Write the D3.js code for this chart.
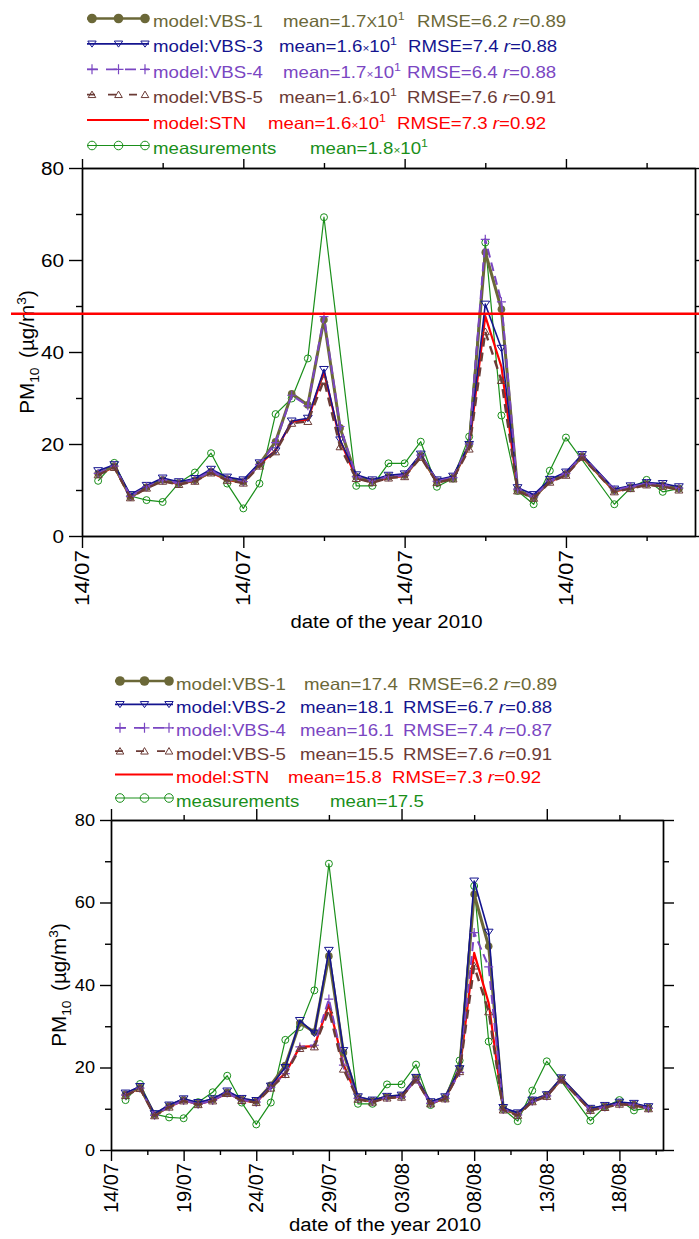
<!DOCTYPE html>
<html><head><meta charset="utf-8">
<script src="https://cdn.jsdelivr.net/npm/d3@7"></script>
<style>body{margin:0;background:#fff} svg text{font-family:"Liberation Sans",Arial,sans-serif}</style>
</head><body><svg id="c" width="699" height="1239"></svg>
<script>
// ---------- DATA ----------
const dates = ["15/07","16/07","17/07","18/07","19/07","20/07","21/07","22/07","23/07","24/07","25/07","26/07","27/07","28/07","29/07","30/07","31/07","01/08","02/08","03/08","04/08","05/08","06/08","07/08","08/08","09/08","10/08","11/08","12/08","13/08","14/08","15/08","16/08","17/08","18/08","19/08","20/08"];

// upper panel
const topMeas = [12.0,15.9,8.7,7.8,7.4,11.5,13.8,18.0,11.4,6.0,11.4,26.5,29.9,38.6,69.3,null,10.9,10.9,15.8,15.8,20.5,10.7,12.5,21.6,63.8,26.2,9.8,6.9,14.2,21.4,null,null,6.9,10.4,12.2,9.6,10.3];
const topVBS1 = [13.6,15.2,8.5,10.6,12.2,11.5,12.1,14.0,12.4,11.8,15.6,20.5,30.9,28.5,47.0,23.5,12.9,11.9,12.9,13.2,17.5,11.9,12.7,19.8,61.7,49.3,10.1,8.3,12.0,13.5,17.4,null,9.9,10.6,11.3,11.0,10.3];
const topVBS3 = [14.2,15.5,9.0,11.0,12.6,11.8,12.5,14.5,12.8,12.2,15.9,18.5,25.0,25.6,36.2,20.9,13.3,12.2,13.2,13.5,17.8,12.2,13.0,19.9,50.4,40.8,10.5,9.0,12.3,13.9,17.7,null,10.2,10.9,11.6,11.4,10.7];
const topVBS4 = [13.6,15.2,8.6,10.7,12.2,11.5,12.2,14.1,12.4,11.8,15.5,20.3,30.6,28.3,47.7,23.8,12.9,11.9,12.9,13.2,17.6,11.9,12.7,20.0,64.5,50.9,10.2,8.5,12.0,13.6,17.5,null,10.0,10.7,11.4,11.1,10.4];
const topVBS5 = [13.3,14.9,8.3,10.4,11.9,11.2,11.9,13.7,12.1,11.5,15.2,18.3,24.5,24.9,33.9,19.4,12.5,11.6,12.6,12.9,17.1,11.6,12.4,18.9,44.4,33.8,9.8,8.2,11.7,13.2,17.1,null,9.6,10.3,11.1,10.8,10.0];
const topSTN  = [13.4,15.0,8.4,10.5,12.0,11.3,12.0,13.8,12.2,11.6,15.6,18.6,24.8,25.3,35.7,20.8,12.6,11.7,12.7,13.0,17.3,11.7,12.5,19.4,47.8,36.8,9.9,8.3,11.8,13.3,17.2,null,9.7,10.4,11.2,10.9,10.1];
const topNames = ["model:VBS-1","model:VBS-3","model:VBS-4","model:VBS-5","model:STN","measurements"];
const topMeans = ["1.7","1.6","1.7","1.6","1.6","1.8"];
const topRMSE  = ["6.2","7.4","6.4","7.6","7.3",null];
const topR     = ["0.89","0.88","0.88","0.91","0.92",null];
const topTickLabels = ["14/07","14/07","14/07","14/07"];
const topHLine = 48.3;

// lower panel
const botMeas = [12.1,16.0,8.7,7.9,7.7,11.6,14.0,18.0,11.5,6.2,11.5,26.7,29.8,38.7,69.4,null,11.2,11.2,15.9,15.9,20.7,10.9,12.6,21.7,64.0,26.3,9.9,7.0,14.4,21.5,null,null,7.1,10.5,12.1,9.6,10.2];
const botVBS1 = [13.5,15.2,8.5,10.7,12.2,11.3,12.2,14.0,12.3,11.8,15.7,20.5,30.8,28.6,47.0,23.6,12.7,11.9,12.9,13.1,17.5,11.5,12.7,19.8,62.0,49.4,10.1,8.7,12.0,13.3,17.3,null,9.9,10.6,11.4,11.0,10.3];
const botVBS2 = [13.8,15.4,8.8,10.9,12.4,11.5,12.4,14.3,12.5,12.0,15.5,20.0,31.4,28.3,48.4,24.1,12.9,12.1,13.0,13.3,17.6,11.7,12.9,19.7,65.2,52.8,10.3,9.0,12.1,13.4,17.5,null,10.1,10.8,11.6,11.3,10.5];
const botVBS4 = [13.3,15.0,8.4,10.5,12.0,11.1,12.0,13.8,12.1,11.6,15.2,18.5,25.0,25.4,36.6,20.6,12.5,11.7,12.7,12.9,17.2,11.3,12.5,18.8,52.7,44.4,9.8,8.5,11.8,13.1,17.1,null,9.7,10.4,11.2,11.0,10.1];
const botVBS5 = [13.2,14.9,8.3,10.4,11.9,11.0,11.9,13.7,12.0,11.5,15.0,18.3,24.6,25.0,33.9,19.6,12.3,11.6,12.6,12.8,17.0,11.2,12.4,19.0,44.6,33.5,9.7,8.4,11.7,13.0,17.0,null,9.6,10.3,11.1,10.9,10.0];
const botSTN  = [13.3,15.0,8.4,10.5,12.0,11.1,12.0,13.8,12.1,11.5,15.4,18.6,25.0,25.2,35.3,20.8,12.4,11.7,12.7,12.9,17.2,11.3,12.5,19.2,47.8,35.6,9.8,8.6,11.8,13.1,17.1,null,9.7,10.4,11.2,10.9,10.1];
const botNames = ["model:VBS-1","model:VBS-2","model:VBS-4","model:VBS-5","model:STN","measurements"];
const botMeans = ["17.4","18.1","16.1","15.5","15.8","17.5"];
const botRMSE  = ["6.2","6.7","7.4","7.6","7.3",null];
const botR     = ["0.89","0.88","0.87","0.91","0.92",null];
const botTickLabels = ["14/07","19/07","24/07","29/07","03/08","08/08","13/08","18/08"];

const yMajor = [0,20,40,60,80];
const yMinor = [10,30,50,70];

// ---------- STYLES ----------
const C = {vbs1:"#6b6838", vbs3:"#14148f", vbs4:"#7a46c2", vbs5:"#6b3b36", stn:"#ff0000", meas:"#1a8f1a"};
const parse = d3.timeParse("%d/%m/%Y");
const days = dates.map(d => parse(d + "/2010"));
const svg = d3.select("#c");

function txt(g, x, y, opts) {
  return g.append("text")
    .attr("transform", `translate(${x},${y}) rotate(${opts.rot||0}) scale(${opts.sx||1},1)`)
    .attr("font-size", opts.size).attr("fill", opts.fill || "#000")
    .attr("text-anchor", opts.anchor || "start");
}

function marker(g, type, x, y, color, s) {
  if (type === "dot") g.append("circle").attr("cx", x).attr("cy", y).attr("r", s).attr("fill", color);
  else if (type === "circle") g.append("circle").attr("cx", x).attr("cy", y).attr("r", s).attr("fill", "none").attr("stroke", color).attr("stroke-width", 1);
  else if (type === "tridown") g.append("path").attr("d", `M${x-s*1.1},${y-s*0.75}L${x+s*1.1},${y-s*0.75}L${x},${y+s*0.85}Z`).attr("fill", "none").attr("stroke", color).attr("stroke-width", 1);
  else if (type === "triup") g.append("path").attr("d", `M${x-s},${y+s*0.75}L${x+s},${y+s*0.75}L${x},${y-s*0.95}Z`).attr("fill", "none").attr("stroke", color).attr("stroke-width", 1);
  else if (type === "plus") g.append("path").attr("d", `M${x-s},${y}H${x+s}M${x},${y-s}V${y+s}`).attr("stroke", color).attr("stroke-width", 1.2);
}

function drawPanel(cfg) {
  const g = svg.append("g");
  const x = d3.scaleTime().domain([parse("14/07/2010"), parse("21/08/2010")]).range([cfg.left, cfg.right]);
  const y = d3.scaleLinear().domain([0, 80]).range([cfg.bottom, cfg.top]);

  const ax = (gen) => g.append("g").call(gen).call(s => s.selectAll("text").remove())
      .call(s => s.selectAll("line,path").attr("stroke", "#000").attr("stroke-width", 1.4));
  const five = [];
  for (let i = 0; i <= 7; i++) five.push(d3.timeDay.offset(parse("14/07/2010"), i * 5));
  const ten = five.filter((d, i) => i % 2 === 0), tenOff = five.filter((d, i) => i % 2 === 1);

  ax(d3.axisLeft(y).tickValues(yMajor).tickSize(cfg.yMaj).tickSizeOuter(0)).attr("transform", `translate(${cfg.left},0)`);
  ax(d3.axisLeft(y).tickValues(yMinor).tickSize(6).tickSizeOuter(0)).attr("transform", `translate(${cfg.left},0)`);
  ax(d3.axisRight(y).tickValues(yMajor).tickSize(cfg.yMaj).tickSizeOuter(0)).attr("transform", `translate(${cfg.right},0)`);
  ax(d3.axisRight(y).tickValues(yMinor).tickSize(6).tickSizeOuter(0)).attr("transform", `translate(${cfg.right},0)`);
  ax(d3.axisTop(x).tickValues(ten).tickSize(cfg.topMaj).tickSizeOuter(0)).attr("transform", `translate(0,${cfg.top})`);
  ax(d3.axisTop(x).tickValues(tenOff).tickSize(5).tickSizeOuter(0)).attr("transform", `translate(0,${cfg.top})`);
  ax(d3.axisBottom(x).tickValues(cfg.botMajor).tickSize(cfg.xMaj).tickSizeOuter(0)).attr("transform", `translate(0,${cfg.bottom})`);
  ax(d3.axisBottom(x).tickValues(cfg.botMinor).tickSize(5).tickSizeOuter(0)).attr("transform", `translate(0,${cfg.bottom})`);

  yMajor.forEach(v => txt(g, cfg.left - cfg.yMaj - 5, y(v) + cfg.ySize * 0.36, {size: cfg.ySize, sx: cfg.ySx, anchor: "end"}).text(v));
  cfg.botMajor.forEach((d, i) => txt(g, x(d) + 7, cfg.bottom + cfg.xLabOff, {size: 20, sx: cfg.xSx, anchor: "end", rot: -90}).text(cfg.tickLabels[i]));
  txt(g, (cfg.left + cfg.right) / 2 - 2, cfg.xTitleY, {size: 18, sx: 1.13, anchor: "middle"}).text("date of the year 2010");
  const yt = txt(g, cfg.yTitleX, (cfg.top + cfg.bottom) / 2, {size: 19.5, sx: 1.06, anchor: "middle", rot: -90});
  yt.append("tspan").text("PM");
  yt.append("tspan").attr("font-size", 13).attr("dy", 5).text("10");
  yt.append("tspan").attr("dy", -5).attr("dx", 9).text("(µg/m");
  yt.append("tspan").attr("font-size", 13).attr("dy", -8).text("3");
  yt.append("tspan").attr("dy", 8).text(")");

  // series: measurements, STN underneath, then VBS runs
  const line = d3.line().x(d => x(d.t)).y(d => y(d.v));
  const drawOrder = [5, 4, 0, 1, 2, 3];
  drawOrder.forEach(k => {
    const s = cfg.series[k];
    const pts = days.map((t, i) => ({t, v: s.values[i]})).filter(d => d.v != null);
    g.append("path").attr("d", line(pts)).attr("fill", "none").attr("stroke", s.color)
      .attr("stroke-width", s.width).attr("stroke-dasharray", s.dash || null).attr("stroke-linejoin", "round");
    if (s.marker) pts.forEach(d => marker(g, s.marker, x(d.t), y(d.v), s.color, s.ms));
  });

  if (cfg.hline != null) {
    g.append("line").attr("x1", x.range()[0] - 71).attr("x2", 699).attr("y1", y(cfg.hline)).attr("y2", y(cfg.hline))
      .attr("stroke", "#ff0000").attr("stroke-width", 2.5);
  }

  // legend
  cfg.series.forEach((s, i) => {
    const by = cfg.legY + i * cfg.legStep;
    const ly = by - 8.5;
    const x0 = cfg.symX0, x1 = cfg.symX1;
    g.append("line").attr("x1", x0).attr("x2", x1).attr("y1", ly).attr("y2", ly).attr("stroke", s.color)
      .attr("stroke-width", s.legW).attr("stroke-dasharray", s.legDash || null);
    if (s.marker) [x0 + 5, (x0 + x1) / 2 + 0.5, x1 - 4].forEach(mx => marker(g, s.marker, mx, ly, s.color, s.lms));
    txt(g, cfg.nameX, by, {size: 16.5, sx: 1.13, fill: s.color}).text(cfg.names[i]);
    const m = txt(g, cfg.meanX[i], by, {size: 16.5, sx: 1.13, fill: s.color});
    m.append("tspan").text("mean=" + cfg.means[i]);
    if (cfg.sci) {
      if (i === 0) m.append("tspan").attr("font-size", 14).text("X");
      else m.append("tspan").attr("font-size", 10.5).text("×");
      m.append("tspan").text("10");
      m.append("tspan").attr("font-size", 11).attr("dy", -7).text("1");
    }
    if (cfg.rmse[i] != null) {
      const r = txt(g, cfg.rmseX[i], by, {size: 16.5, sx: 1.13, fill: s.color});
      r.append("tspan").text("RMSE=" + cfg.rmse[i] + " ");
      r.append("tspan").attr("font-style", "italic").text("r");
      r.append("tspan").text("=" + cfg.r[i]);
    }
  });
}

function series(vals) {
  const st = [
    {color: C.vbs1, width: 3, legW: 2.6, marker: "dot", ms: 3.8, lms: 4.8},
    {color: C.vbs3, width: 1.6, legW: 1.6, marker: "tridown", ms: 4, lms: 3.8},
    {color: C.vbs4, width: 2, legW: 1.8, dash: "9,5", legDash: "11,8", marker: "plus", ms: 4.5, lms: 5},
    {color: C.vbs5, width: 2.4, legW: 1.8, dash: "9,6", legDash: "8,13", marker: "triup", ms: 4, lms: 3.8},
    {color: C.stn, width: 2.2, legW: 2},
    {color: C.meas, width: 1.2, legW: 1.2, marker: "circle", ms: 3.5, lms: 4.3}
  ];
  return st.map((s, i) => Object.assign({values: vals[i]}, s));
}

const fiveDays = [], halfDays = [];
for (let i = 0; i <= 7; i++) fiveDays.push(d3.timeDay.offset(parse("14/07/2010"), i * 5));
for (let i = 0; i <= 7; i++) halfDays.push(d3.timeHour.offset(parse("14/07/2010"), i * 120 + 60));

drawPanel({
  left: 82, right: 695, top: 168, bottom: 536, yMaj: 13, topMaj: 9, xMaj: 12,
  botMajor: fiveDays.filter((d, i) => i % 2 === 0), botMinor: fiveDays.filter((d, i) => i % 2 === 1),
  tickLabels: topTickLabels, xLabOff: 14, xSx: 1.12,
  ySize: 18.5, ySx: 1.12, xTitleY: 628, yTitleX: 34, hline: topHLine,
  series: series([topVBS1, topVBS3, topVBS4, topVBS5, topSTN, topMeas]),
  names: topNames, means: topMeans, rmse: topRMSE, r: topR, sci: true,
  legY: 27, legStep: 25.4, symX0: 87, symX1: 149, nameX: 153,
  meanX: [283, 279, 283, 279, 268, 310], rmseX: [417, 408, 407, 407, 397]
});

drawPanel({
  left: 111, right: 663, top: 820, bottom: 1150, yMaj: 11, topMaj: 11, xMaj: 11,
  botMajor: fiveDays, botMinor: halfDays,
  tickLabels: botTickLabels, xLabOff: 13, xSx: 1.0,
  ySize: 16.5, ySx: 1.1, xTitleY: 1231, yTitleX: 66, hline: null,
  series: series([botVBS1, botVBS2, botVBS4, botVBS5, botSTN, botMeas]),
  names: botNames, means: botMeans, rmse: botRMSE, r: botR, sci: false,
  legY: 689.5, legStep: 23.4, symX0: 115, symX1: 173, nameX: 176,
  meanX: [304, 300, 300, 300, 288, 330], rmseX: [408, 403, 403, 403, 392]
});
</script></body></html>
